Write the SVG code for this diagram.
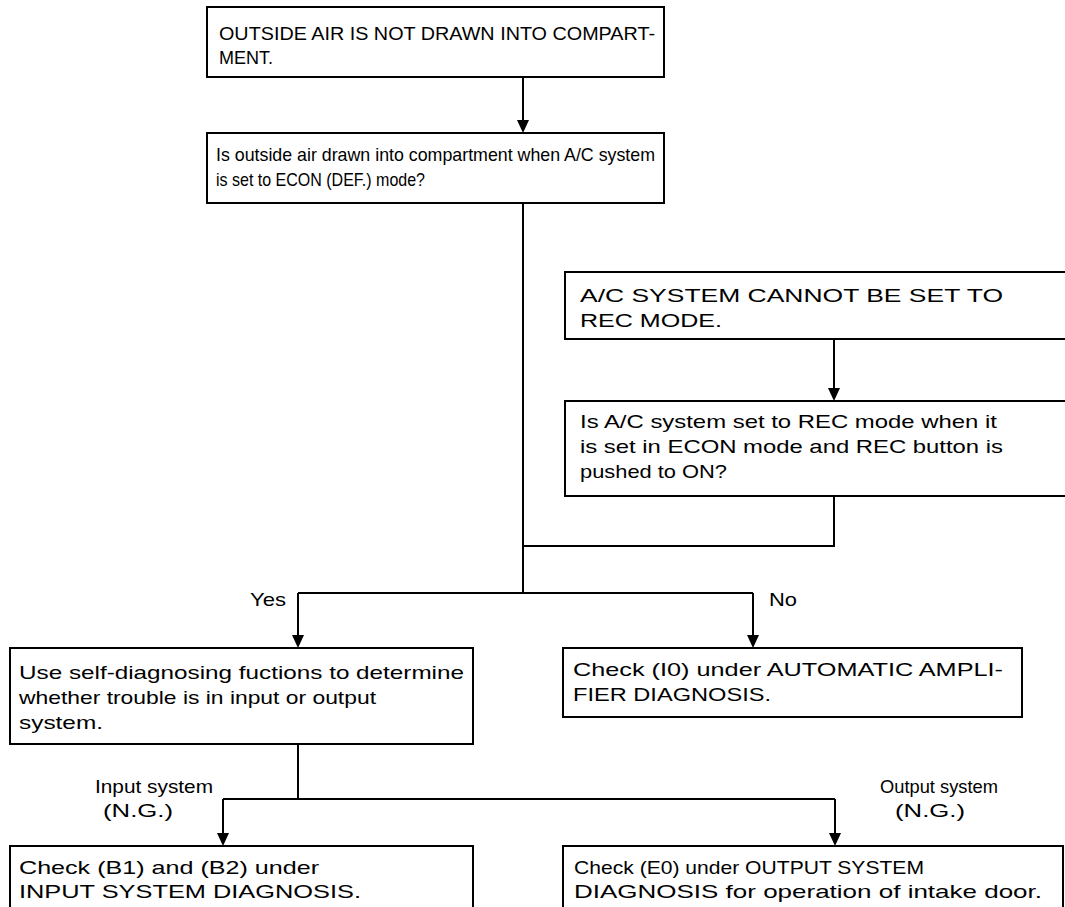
<svg xmlns="http://www.w3.org/2000/svg" width="1065" height="907" viewBox="0 0 1065 907">
<style>
.box{fill:#fff;stroke:#000;stroke-width:2}
.ln{fill:none;stroke:#000;stroke-width:2}
text{font-family:"Liberation Sans",Arial,sans-serif;font-size:19px;fill:#000}
</style>
<rect width="1065" height="907" fill="#fff"/>
<g id="connectors">
<path class="ln" d="M523,77 V122"/>
<path class="ln" d="M523,203 V593"/>
<path class="ln" d="M834,339 V390"/>
<path class="ln" d="M834,496 V546 H523"/>
<path class="ln" d="M298,593 H753"/>
<path class="ln" d="M298,593 V637"/>
<path class="ln" d="M753,593 V637"/>
<path class="ln" d="M298,744 V799"/>
<path class="ln" d="M223,799 H835"/>
<path class="ln" d="M223,799 V835"/>
<path class="ln" d="M835,799 V835"/>
<path d="M517,120 L529,120 L523,133 Z"/>
<path d="M828,388 L840,388 L834,401 Z"/>
<path d="M292,635 L304,635 L298,648 Z"/>
<path d="M747,635 L759,635 L753,648 Z"/>
<path d="M217,833 L229,833 L223,846 Z"/>
<path d="M829,833 L841,833 L835,846 Z"/>
<text x="250" y="606" textLength="36" lengthAdjust="spacingAndGlyphs">Yes</text>
<text x="769" y="606" textLength="28" lengthAdjust="spacingAndGlyphs">No</text>
<text x="95" y="793" textLength="118" lengthAdjust="spacingAndGlyphs">Input system</text>
<text x="103" y="817" textLength="70" lengthAdjust="spacingAndGlyphs">(N.G.)</text>
<text x="880" y="793" textLength="118" lengthAdjust="spacingAndGlyphs">Output system</text>
<text x="895" y="817" textLength="70" lengthAdjust="spacingAndGlyphs">(N.G.)</text>
</g>
<g id="n1">
<rect class="box" x="207" y="7" width="457" height="70"/>
<text x="219" y="40" textLength="436" lengthAdjust="spacingAndGlyphs">OUTSIDE AIR IS NOT DRAWN INTO COMPART-</text>
<text x="219" y="64" textLength="54" lengthAdjust="spacingAndGlyphs">MENT.</text>
</g>
<g id="n2">
<rect class="box" x="207" y="133" width="457" height="70"/>
<text x="216" y="161" textLength="439" lengthAdjust="spacingAndGlyphs">Is outside air drawn into compartment when A/C system</text>
<text x="216" y="186" textLength="209" lengthAdjust="spacingAndGlyphs">is set to ECON (DEF.) mode?</text>
</g>
<g id="n3">
<rect class="box" x="565" y="272" width="510" height="67"/>
<text x="580" y="302" textLength="423" lengthAdjust="spacingAndGlyphs">A/C SYSTEM CANNOT BE SET TO</text>
<text x="580" y="327" textLength="142" lengthAdjust="spacingAndGlyphs">REC MODE.</text>
</g>
<g id="n4">
<rect class="box" x="565" y="401" width="510" height="95"/>
<text x="580" y="428" textLength="417" lengthAdjust="spacingAndGlyphs">Is A/C system set to REC mode when it</text>
<text x="580" y="453" textLength="423" lengthAdjust="spacingAndGlyphs">is set in ECON mode and REC button is</text>
<text x="580" y="478" textLength="147" lengthAdjust="spacingAndGlyphs">pushed to ON?</text>
</g>
<g id="n5">
<rect class="box" x="10" y="648" width="463" height="96"/>
<text x="19" y="679" textLength="445" lengthAdjust="spacingAndGlyphs">Use self-diagnosing fuctions to determine</text>
<text x="19" y="704" textLength="357" lengthAdjust="spacingAndGlyphs">whether trouble is in input or output</text>
<text x="19" y="729" textLength="84" lengthAdjust="spacingAndGlyphs">system.</text>
</g>
<g id="n6">
<rect class="box" x="563" y="648" width="459" height="69"/>
<text x="573" y="676" textLength="430" lengthAdjust="spacingAndGlyphs">Check (I0) under AUTOMATIC AMPLI-</text>
<text x="573" y="701" textLength="198" lengthAdjust="spacingAndGlyphs">FIER DIAGNOSIS.</text>
</g>
<g id="n7">
<rect class="box" x="10" y="846" width="463" height="80"/>
<text x="19" y="874" textLength="300" lengthAdjust="spacingAndGlyphs">Check (B1) and (B2) under</text>
<text x="19" y="898" textLength="342" lengthAdjust="spacingAndGlyphs">INPUT SYSTEM DIAGNOSIS.</text>
</g>
<g id="n8">
<rect class="box" x="563" y="846" width="500" height="80"/>
<text x="574" y="874" textLength="350" lengthAdjust="spacingAndGlyphs">Check (E0) under OUTPUT SYSTEM</text>
<text x="574" y="898" textLength="468" lengthAdjust="spacingAndGlyphs">DIAGNOSIS for operation of intake door.</text>
</g>
</svg>
